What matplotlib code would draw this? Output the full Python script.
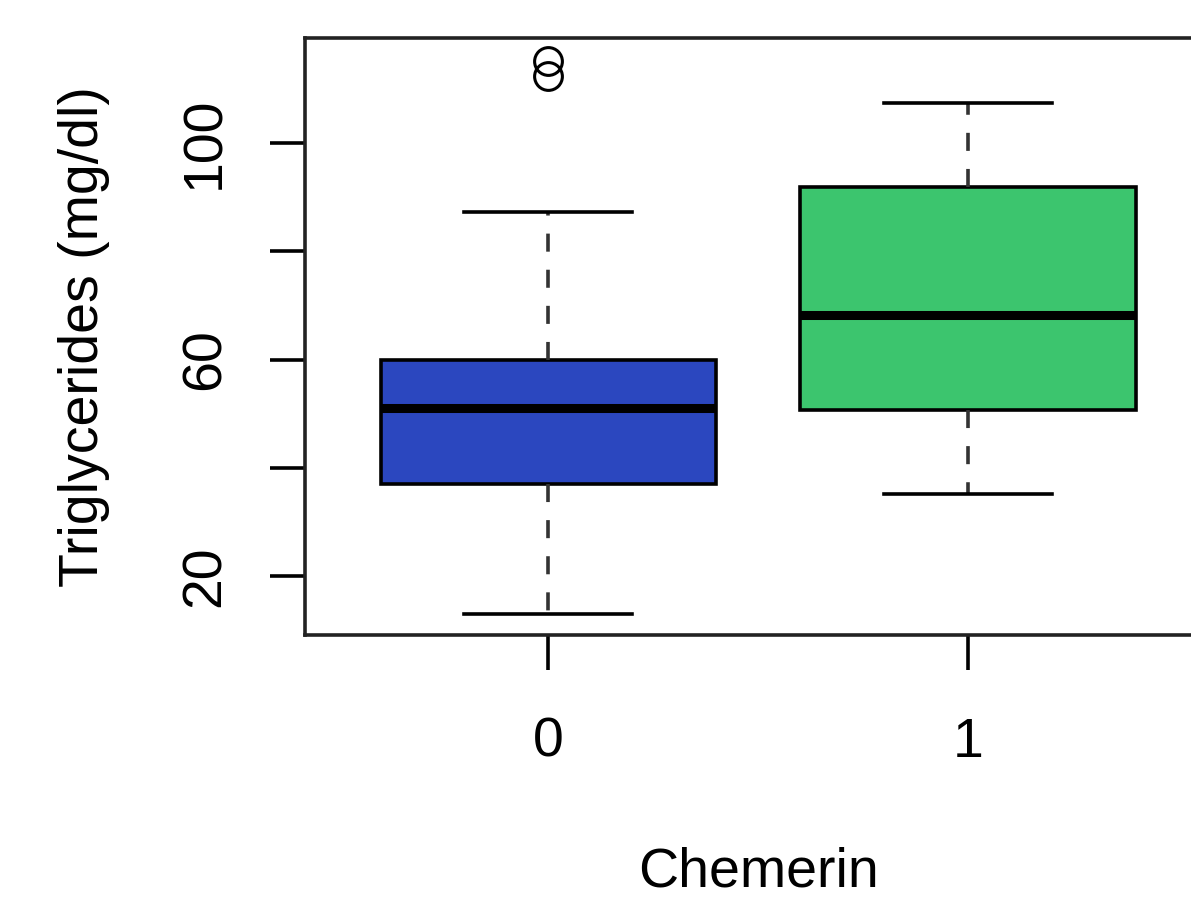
import matplotlib.pyplot as plt

plt.rcParams['font.family'] = ['Liberation Sans', 'DejaVu Sans']

groups = ['0', '1']
whislo = [13.0, 35.2]
q1 = [37.0, 50.7]
med = [51.0, 68.2]
q3 = [60.0, 91.9]
whishi = [87.3, 107.4]
fliers = [[112.4, 115.1], []]
colors = ['#2b47bf', '#3cc56e']

y_ticks = [20, 40, 60, 80, 100]
y_labels = ['20', '', '60', '', '100']

fig = plt.figure(figsize=(11.91, 9.01), dpi=100)
ax = fig.add_axes([305 / 1191, 1 - 635 / 901, (1211.6 - 305) / 1191, (635 - 38) / 901])

stats = []
for i in range(len(groups)):
    stats.append(dict(whislo=whislo[i], q1=q1[i], med=med[i], q3=q3[i],
                      whishi=whishi[i], fliers=fliers[i], label=groups[i]))

lw = 2.6
bp = ax.bxp(stats, positions=[1, 2], widths=0.8, capwidths=0.4, patch_artist=True,
            boxprops=dict(linewidth=lw, edgecolor='black'),
            medianprops=dict(linewidth=6.5, color='black', solid_capstyle='butt'),
            whiskerprops=dict(linewidth=lw, color='#333333', linestyle=(0, (5, 5))),
            capprops=dict(linewidth=lw, color='black'),
            flierprops=dict(marker='o', markersize=20, markerfacecolor='none',
                            markeredgecolor='black', markeredgewidth=2.2))
for patch, c in zip(bp['boxes'], colors):
    patch.set_facecolor(c)

ax.set_xlim(0.42, 2.58)
ax.set_ylim(9.1, 119.4)

ax.set_xticks([1, 2])
ax.set_xticklabels(groups)
ax.set_yticks(y_ticks)
ax.set_yticklabels(y_labels, rotation=90, va='center')

ax.tick_params(axis='both', length=25, width=lw, labelsize=40, color='black')
ax.tick_params(axis='x', pad=34)
ax.tick_params(axis='y', pad=28)

for s in ax.spines.values():
    s.set_linewidth(lw)
    s.set_color('#222222')

ax.set_xlabel('Chemerin', fontsize=40, labelpad=56)
ax.set_ylabel('Triglycerides (mg/dl)', fontsize=40, labelpad=50)

fig.savefig('out.png', dpi=100)
